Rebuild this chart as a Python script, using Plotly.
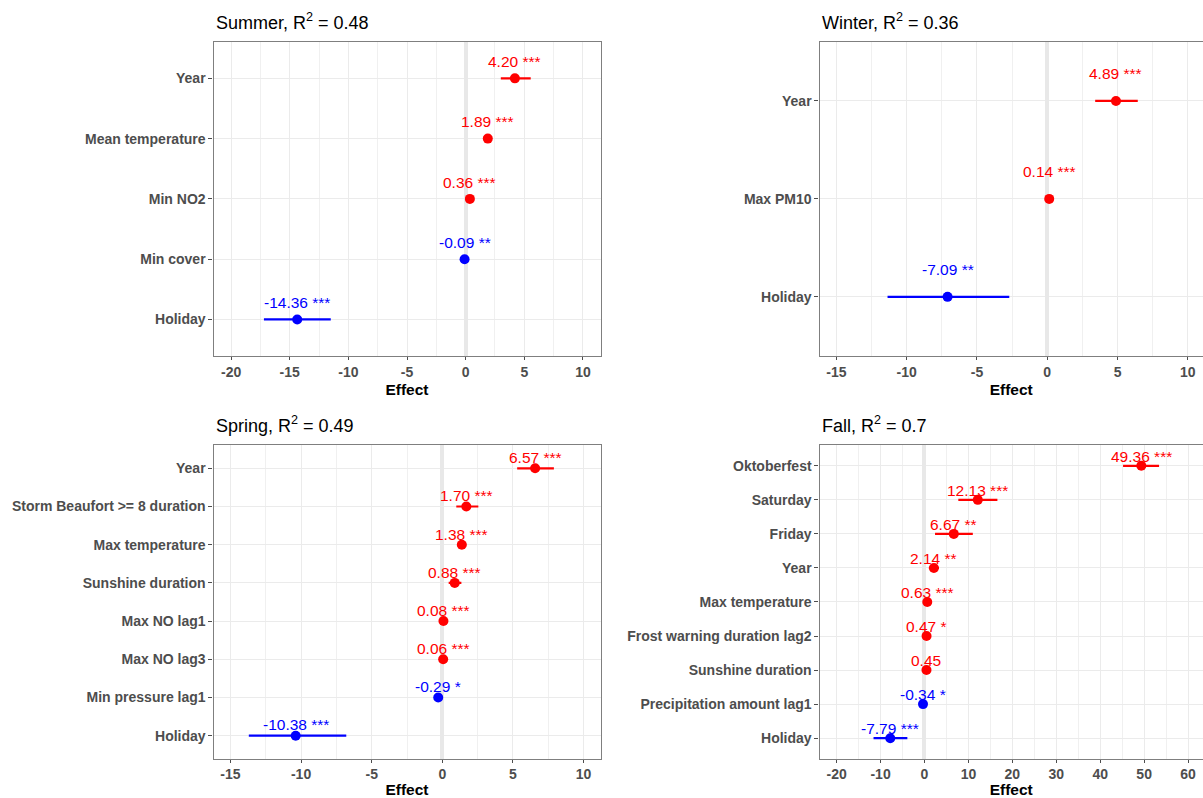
import plotly.graph_objects as go

# ---------------- data ----------------
summer_vars = ["Year", "Mean temperature", "Min NO2", "Min cover", "Holiday"]
summer_est = [4.20, 1.89, 0.36, -0.09, -14.36]
summer_lo = [3.0, 1.55, 0.15, -0.25, -17.2]
summer_hi = [5.55, 2.25, 0.57, 0.07, -11.5]
summer_sig = ["***", "***", "***", "**", "***"]

winter_vars = ["Year", "Max PM10", "Holiday"]
winter_est = [4.89, 0.14, -7.09]
winter_lo = [3.41, 0.08, -11.36]
winter_hi = [6.44, 0.20, -2.7]
winter_sig = ["***", "***", "**"]

spring_vars = ["Year", "Storm Beaufort >= 8 duration", "Max temperature", "Sunshine duration",
               "Max NO lag1", "Max NO lag3", "Min pressure lag1", "Holiday"]
spring_est = [6.57, 1.70, 1.38, 0.88, 0.08, 0.06, -0.29, -10.38]
spring_lo = [5.3, 0.99, 1.05, 0.45, 0.05, 0.03, -0.5, -13.7]
spring_hi = [7.9, 2.55, 1.7, 1.35, 0.11, 0.09, -0.08, -6.8]
spring_sig = ["***", "***", "***", "***", "***", "***", "*", "***"]

fall_vars = ["Oktoberfest", "Saturday", "Friday", "Year", "Max temperature",
             "Frost warning duration lag2", "Sunshine duration", "Precipitation amount lag1", "Holiday"]
fall_est = [49.36, 12.13, 6.67, 2.14, 0.63, 0.47, 0.45, -0.34, -7.79]
fall_lo = [45.2, 7.7, 2.4, 1.0, 0.35, 0.05, 0.15, -0.62, -11.6]
fall_hi = [53.4, 16.6, 11.0, 3.3, 0.9, 0.9, 0.75, -0.06, -3.9]
fall_sig = ["***", "***", "**", "**", "***", "*", "", "*", "***"]

summer_ticks = [-20, -15, -10, -5, 0, 5, 10]
winter_ticks = [-15, -10, -5, 0, 5, 10]
spring_ticks = [-15, -10, -5, 0, 5, 10]
fall_ticks = [-20, -10, 0, 10, 20, 30, 40, 50, 60]

panel_titles = ["Summer", "Winter", "Spring", "Fall"]
panel_r2 = ["0.48", "0.36", "0.49", "0.7"]

# ---------------- style ----------------
FONT = "Liberation Sans, Arial, sans-serif"
RED = "#FF0000"
BLUE = "#0000FF"
W, H = 1203, 798

panels = [
    dict(vars=summer_vars, est=summer_est, lo=summer_lo, hi=summer_hi, sig=summer_sig,
         ticks=summer_ticks, xr=[-21.5, 11.5], px=(213.5, 600.5), py=(42.3, 356.5)),
    dict(vars=winter_vars, est=winter_est, lo=winter_lo, hi=winter_hi, sig=winter_sig,
         ticks=winter_ticks, xr=[-16.2, 11.08], px=(819.5, 1203), py=(42.3, 356.5)),
    dict(vars=spring_vars, est=spring_est, lo=spring_lo, hi=spring_hi, sig=spring_sig,
         ticks=spring_ticks, xr=[-16.2, 11.2], px=(213.5, 600.5), py=(446.5, 760.5)),
    dict(vars=fall_vars, est=fall_est, lo=fall_lo, hi=fall_hi, sig=fall_sig,
         ticks=fall_ticks, xr=[-23.9, 63.4], px=(819.5, 1203), py=(446.5, 760.5)),
]

fig = go.Figure()
annotations = []
NUDGE = 0.28

for k, p in enumerate(panels):
    sfx = "" if k == 0 else str(k + 1)
    xa, ya = "x" + sfx, "y" + sfx
    n = len(p["vars"])
    ypos = [n - 1 - i for i in range(n)]
    for sign, col in ((1, RED), (-1, BLUE)):
        idx = [i for i in range(n) if (p["est"][i] > 0) == (sign > 0)]
        if not idx:
            continue
        fig.add_trace(go.Scatter(
            x=[p["est"][i] for i in idx],
            y=[ypos[i] for i in idx],
            mode="markers",
            marker=dict(color=col, size=10),
            error_x=dict(type="data", symmetric=False,
                         array=[p["hi"][i] - p["est"][i] for i in idx],
                         arrayminus=[p["est"][i] - p["lo"][i] for i in idx],
                         color=col, thickness=2.2, width=0),
            xaxis=xa, yaxis=ya, showlegend=False, hoverinfo="skip",
        ))
    for i in range(n):
        col = RED if p["est"][i] > 0 else BLUE
        label = f"{p['est'][i]:.2f} {p['sig'][i]}".strip()
        annotations.append(dict(
            x=p["est"][i], y=ypos[i] + NUDGE, xref=xa, yref=ya,
            text=label, showarrow=False, xanchor="center", yanchor="middle",
            font=dict(family=FONT, size=15.5, color=col),
        ))
    x0, x1 = p["px"]
    y0, y1 = p["py"]
    right_panel = k in (1, 3)
    step = p["ticks"][1] - p["ticks"][0]
    fig.layout["xaxis" + sfx] = dict(
        domain=[x0 / W, x1 / W], anchor=ya, range=p["xr"],
        tickvals=p["ticks"], ticktext=[str(v) for v in p["ticks"]],
        showgrid=True, gridcolor="#EBEBEB", gridwidth=1.1,
        minor=dict(dtick=step / 2, tick0=0, showgrid=True, gridcolor="#F0F0F0", gridwidth=0.8),
        zeroline=True, zerolinecolor="#E8E8E8", zerolinewidth=3.5,
        showline=True, linecolor="#7F7F7F", linewidth=1.2, mirror=True,
        ticks="outside", ticklen=3, tickcolor="#4D4D4D", tickwidth=1,
        tickfont=dict(family=FONT, size=14, color="#4D4D4D", weight="bold"),
        title=dict(text="<b>Effect</b>", standoff=5,
                   font=dict(family=FONT, size=15.5, color="black")),
        fixedrange=True,
    )
    fig.layout["yaxis" + sfx] = dict(
        domain=[1 - y1 / H, 1 - y0 / H], anchor=xa, range=[-0.6, n - 0.4],
        tickvals=ypos, ticktext=p["vars"],
        showgrid=True, gridcolor="#EBEBEB", gridwidth=1.1, zeroline=False,
        showline=True, linecolor="#7F7F7F", linewidth=1.2, mirror=not right_panel,
        ticks="outside", ticklen=4, tickcolor="#4D4D4D", tickwidth=1,
        tickfont=dict(family=FONT, size=14, color="#4D4D4D", weight="bold"),
        fixedrange=True,
    )
    annotations.append(dict(
        x=x0 / W, y=1 - (y0 - 21) / H, xref="paper", yref="paper",
        text=f"{panel_titles[k]}, R<sup>2</sup> = {panel_r2[k]}",
        showarrow=False, xanchor="left", yanchor="middle",
        font=dict(family=FONT, size=18, color="black"),
    ))

fig.update_layout(
    width=W, height=H,
    margin=dict(l=0, r=0, t=0, b=0),
    paper_bgcolor="white", plot_bgcolor="white",
    annotations=annotations,
    font=dict(family=FONT),
)

fig.write_html("out.html", config={"displayModeBar": False},
               post_script="document.body.style.margin='0';document.body.style.padding='0';"
                           "document.body.style.overflow='hidden';")
